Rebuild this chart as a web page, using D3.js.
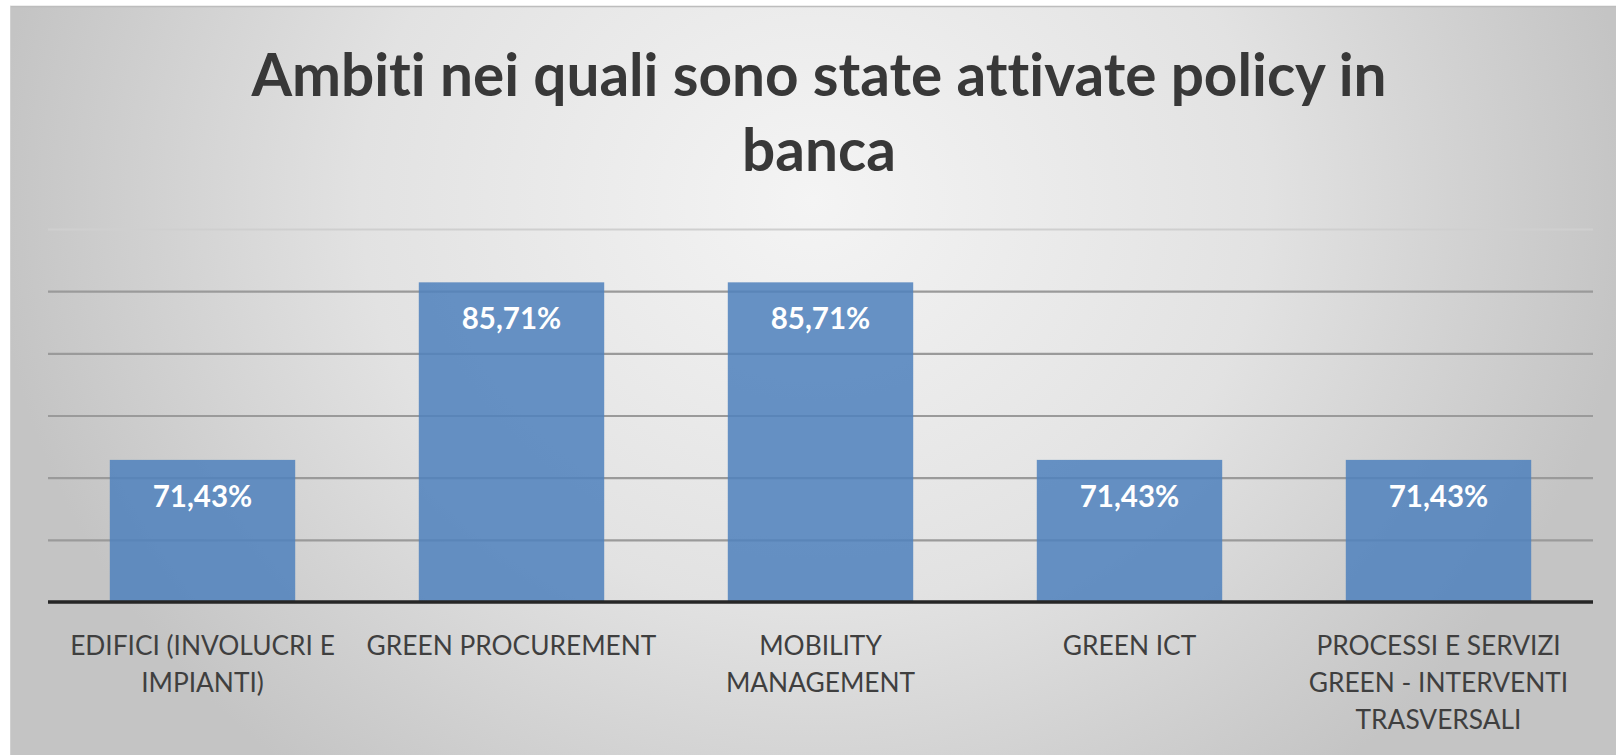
<!DOCTYPE html>
<html><head><meta charset="utf-8">
<script src="https://cdn.jsdelivr.net/npm/d3@7"></script>
<style>html,body{margin:0;padding:0;background:#fff;overflow:hidden} text{font-variant-ligatures:none;font-feature-settings:"liga" 0}</style>
</head><body><svg id="c" width="1616" height="755"></svg>
<script>
const titleLines = ["Ambiti nei quali sono state attivate policy in", "banca"];
const categories = [
  ["EDIFICI (INVOLUCRI E", "IMPIANTI)"],
  ["GREEN PROCUREMENT"],
  ["MOBILITY", "MANAGEMENT"],
  ["GREEN ICT"],
  ["PROCESSI E SERVIZI", "GREEN - INTERVENTI", "TRASVERSALI"]
];
const values = [71.43, 85.71, 85.71, 71.43, 71.43];
const valueLabels = ["71,43%", "85,71%", "85,71%", "71,43%", "71,43%"];
const yTicks = [60, 65, 70, 75, 80, 85, 90];

const svg = d3.select("#c");
const W = 1616, H = 755;
const defs = svg.append("defs");
const g = defs.append("radialGradient").attr("id","bg")
  .attr("gradientUnits","userSpaceOnUse")
  .attr("cx", 813).attr("cy", 200).attr("r", 820)
  .attr("gradientTransform","translate(813,200) scale(1,0.9) translate(-813,-200)");
g.append("stop").attr("offset","0%").attr("stop-color","#f4f4f4");
g.append("stop").attr("offset","55%").attr("stop-color","#e2e2e2");
g.append("stop").attr("offset","100%").attr("stop-color","#c4c4c4");

svg.append("rect").attr("x",10).attr("y",6).attr("width",W-10).attr("height",H-6).attr("fill","url(#bg)");
svg.append("line").attr("x1",10).attr("x2",W).attr("y1",6.5).attr("y2",6.5).attr("stroke","#bdbdbd").attr("stroke-width",1.5);
svg.append("line").attr("x1",10.5).attr("x2",10.5).attr("y1",6).attr("y2",H).attr("stroke","#d0d0d0").attr("stroke-width",1);

const pL = 48, pR = 1593, pT = 229, pB = 602;
const x = d3.scaleBand().domain(d3.range(categories.length)).range([pL, pR]).paddingInner(0.4).paddingOuter(0.2);
const y = d3.scaleLinear().domain([60, 90]).range([pB, pT]);

// gridlines
const grid = svg.append("g").attr("transform", `translate(${pL},0)`)
  .call(d3.axisLeft(y).tickValues(yTicks.slice(1)).tickSize(-(pR-pL)).tickFormat(""));
grid.select(".domain").remove();
grid.selectAll(".tick line").attr("stroke", d => d === 90 ? "#cfcfcf" : "#9a9a9a").attr("stroke-width", 2.2);

// bars
svg.append("g").selectAll("rect").data(values).join("rect")
  .attr("x", (d,i) => x(i)).attr("width", x.bandwidth())
  .attr("y", d => y(d)).attr("height", d => pB - y(d))
  .attr("fill", "#4f81bd").attr("fill-opacity", 0.86);

// baseline axis
const xa = svg.append("g").attr("transform", `translate(0,${pB})`).call(d3.axisBottom(x).tickSize(0).tickFormat(""));
xa.select(".domain").attr("stroke", "#262626").attr("stroke-width", 3.5).attr("d", `M${pL},0H${pR}`);

// value labels
svg.append("g").selectAll("text").data(values).join("text")
  .attr("x", (d,i) => x(i) + x.bandwidth()/2).attr("y", d => y(d) + 47)
  .attr("text-anchor","middle").attr("fill","#ffffff")
  .style("font-family","Lato").style("font-weight","700").style("font-size","29.5px")
  .text((d,i) => valueLabels[i]);

// category labels
const cl = svg.append("g").selectAll("text").data(categories).join("text")
  .attr("text-anchor","middle").attr("fill","#3f3f3f")
  .style("font-family","Lato").style("font-size","26.3px");
cl.each(function(lines, i){
  d3.select(this).selectAll("tspan").data(lines).join("tspan")
    .attr("x", x(i) + x.bandwidth()/2).attr("y", (l,j) => 655 + j*37).text(l => l);
});

// title
svg.append("g").selectAll("text").data(titleLines).join("text")
  .attr("x", 819).attr("y", (d,i) => 96 + i*75).attr("text-anchor","middle")
  .attr("fill","#383838").style("font-family","Lato").style("font-weight","700").style("font-size","58.5px")
  .text(d => d);
</script></body></html>
